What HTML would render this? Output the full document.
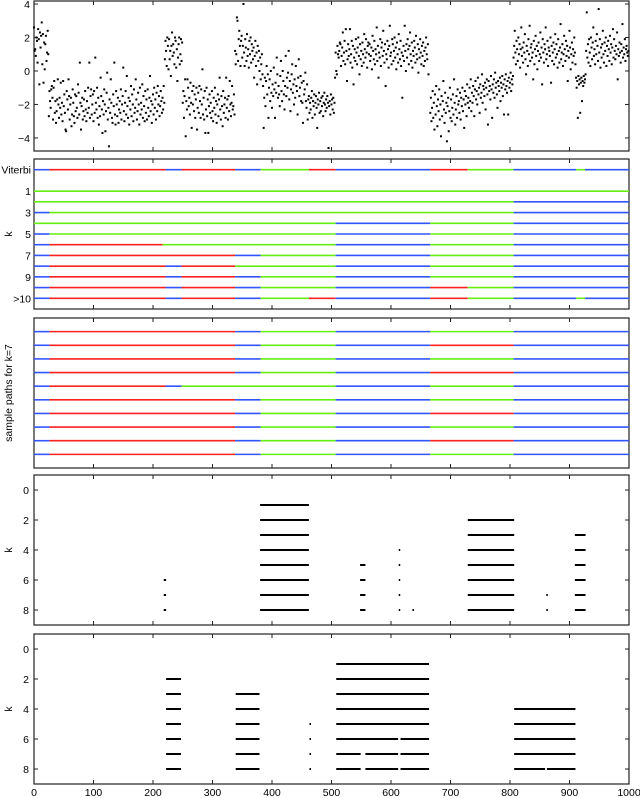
<!DOCTYPE html>
<html><head><meta charset="utf-8"><style>
body{margin:0;background:#fff}
svg{display:block;font-family:"Liberation Sans",sans-serif;font-size:10.5px}
</style></head><body>
<svg id="fig" width="640" height="798" xmlns="http://www.w3.org/2000/svg"></svg>
<script>
const xTicks=[0,100,200,300,400,500,600,700,800,900,1000];
const obsSegStarts=[0,25,220,250,338,385,460,507,666,730,806,911,928];
const obsSegValues=[
[2.6,1.2,1.3,0.9,2.0,1.8,0.5,2.5,1.9,-0.8,2.3,1.4,2.1,2.9,0.4,2.2,-0.7,1.7,0.1,1.6,2.1,0.6,1.1,2.4,1.0],
[-2.7,-1.2,-1.8,-2.2,-1.1,-0.9,-1.6,-2.9,-1.0,-0.6,-2.5,-1.8,-3.1,-2.4,-1.7,-0.5,-2.0,-2.8,-1.6,-2.2,-0.7,-2.6,-1.9,-3.0,-0.6,
-2.1,-1.4,-2.5,-3.5,-3.6,-1.2,-1.7,-2.3,-0.5,-1.5,-2.9,-2.0,-1.6,-3.3,-2.6,-1.1,-1.9,-2.7,-3.1,-1.4,-2.4,-1.5,-2.2,-2.8,-0.8,
-1.3,-2.6,0.5,-1.9,-3.5,-2.1,-1.6,-2.9,-2.4,-1.7,-2.7,-1.2,-2.3,-3.0,-1.8,-2.5,-1.0,-2.2,0.5,-2.8,-1.5,-1.1,-2.6,-2.0,-1.4,
-3.0,-1.2,-2.5,0.8,-1.9,-2.3,-1.0,-2.8,-1.6,-3.2,-2.1,-2.7,-0.4,-1.5,-2.3,-3.7,-1.8,-2.6,-1.1,-2.0,-3.6,-2.4,-1.3,-0.1,-2.9,
-2.2,-4.5,-1.7,-2.5,-0.5,-1.9,-2.8,-3.1,-1.4,-2.1,0.5,-2.6,-3.2,-1.2,-2.0,-2.7,-1.6,-3.1,-2.3,-1.8,-2.5,-1.1,-2.9,-2.0,-1.5,
0.2,-2.4,-3.0,-1.9,-1.2,-2.6,-0.3,-2.1,-2.8,-1.6,-3.2,-1.8,-2.3,-0.9,-2.7,-1.4,-2.0,-3.0,-1.1,-2.5,-2.2,-0.5,-1.7,-2.9,-2.4,
-1.3,-2.0,-3.2,-1.0,-2.6,-1.9,-2.3,-0.8,-2.8,-1.5,-2.1,-3.0,-1.2,-2.5,-1.7,-2.9,-1.1,-2.2,-2.7,-1.6,-0.3,-2.4,-1.8,-3.1,-2.0,
-1.4,-2.6,-1.0,-2.2,-1.7,-2.9,-1.3,-2.4,-0.9,-2.0,-1.5,-2.7,-2.1,-1.2,-1.8,-2.5,-1.6,-2.3,-0.9,-1.9],
[0.7,1.8,1.2,0.3,2.0,1.5,0.1,1.9,0.7,1.2,-0.3,1.5,2.3,0.9,1.6,1.1,0.4,2.0,1.8,0.2,1.3,-0.6,0.8,1.6,2.0,0.4,1.0,1.9,0.6,1.7],
[-1.9,-1.2,-2.8,-1.5,-0.5,-3.9,-1.8,-2.3,-0.5,-1.0,-2.1,-1.6,-2.6,-0.7,-1.9,-3.4,-1.2,-2.0,-0.9,-2.4,-1.4,-2.8,-1.7,-1.0,-3.5,
-2.2,-1.3,-2.5,-0.9,-1.8,-2.8,-1.1,-2.0,0.1,-2.6,-1.6,-2.9,-1.2,-3.7,-2.3,-1.0,-2.7,-1.7,-3.7,-2.1,-1.4,-2.5,-1.9,-2.8,-1.2,
-2.4,-3.0,-1.6,-2.2,-1.0,-2.6,-1.8,-3.1,-2.0,-1.4,-2.7,-1.7,-0.4,-2.3,-2.9,-1.5,-2.1,-3.3,-1.2,-2.5,-2.0,-1.6,-2.8,-0.4,-2.2,
-1.7,-2.9,-1.5,-2.4,-0.6,-2.0,-2.7,-1.9,-0.9,-2.3,-2.1,-1.4,-2.6],
[1.2,0.4,1.0,3.2,3.0,0.6,1.9,2.4,1.5,0.3,1.8,2.1,0.8,1.5,4.0,1.1,0.3,1.9,1.4,0.6,2.2,0.9,1.3,0.2,1.8,1.0,2.0,0.5,1.6,1.2,0.7,1.4,-0.4,0.9,1.8,0.3,1.1,-0.8,1.5,0.6,1.2,0.0,0.8,-0.5,0.4,1.0,-0.2],
[-0.9,-3.4,-1.6,-0.4,-2.1,-0.6,0.3,-1.4,-0.2,-2.8,-1.0,-0.5,-1.8,0.0,-1.3,-2.2,-0.8,-1.5,0.2,-1.1,-2.8,-0.7,-1.3,0.8,-0.2,-1.6,-0.9,-1.4,-2.1,-0.3,0.6,-1.2,-1.8,0.0,-0.6,-1.4,-2.3,-0.9,0.9,-1.5,-0.4,-1.0,-0.1,1.2,-1.7,-0.6,-2.4,-1.1,-0.2,0.4,-1.3,-0.8,-2.0,-0.5,-1.6,0.3,-0.9,-1.2,-2.6,-0.4,0.7,-1.5,-1.0,-0.3,-1.8,-0.7,-1.9,-3.1,-0.6,-1.4,-1.1,-0.1,-1.8,-2.2,-0.8],
[-2.9,-1.7,-1.5,-2.5,-1.9,-2.3,-1.6,-1.2,-2.8,-1.8,-2.1,-1.4,-2.6,-1.9,-1.5,-2.2,-3.4,-1.7,-2.0,-1.3,-2.5,-1.8,-2.4,-1.6,-2.1,-1.5,-2.7,-1.9,-1.3,-2.0,-2.4,-1.7,-2.2,-1.5,-1.9,-4.6,-2.1,-1.8,-2.6,-1.4,-2.0,-1.7,-2.3,-1.6,-2.5,-1.9,-0.4],
[1.1,0.0,-0.2,1.5,1.0,0.8,1.2,1.7,1.6,0.3,0.9,1.4,2.3,0.6,1.1,1.8,0.4,2.5,1.2,-0.6,0.7,1.6,0.9,1.3,2.5,0.5,1.0,1.8,0.2,1.5,-0.8,0.8,1.3,0.6,1.9,1.1,0.4,1.4,2.0,0.9,-0.2,1.6,0.7,1.2,0.3,1.7,1.0,0.5,2.2,1.3,0.8,1.9,1.1,0.2,1.5,1.7,1.0,1.6,0.6,0.9,1.4,0.1,2.1,1.2,0.7,1.8,0.4,1.3,1.0,2.6,0.6,1.5,-0.4,1.1,0.8,1.9,0.3,1.4,1.7,0.9,2.4,1.2,0.5,1.6,-0.9,1.0,0.7,1.8,1.3,0.2,1.5,2.7,0.9,1.1,0.4,1.9,1.6,0.6,1.2,2.0,0.8,1.4,0.1,1.7,1.0,0.5,2.2,1.3,0.7,1.8,0.3,1.1,-1.6,0.9,1.5,0.6,2.7,1.2,0.0,1.6,0.8,1.9,1.3,0.4,1.5,2.3,1.0,0.6,1.7,0.2,1.2,0.9,1.8,1.4,0.5,2.1,1.0,0.7,1.6,-0.1,1.3,0.8,1.9,1.1,0.4,1.5,0.9,1.7,0.3,1.2,0.6,1.4,2.0,1.0,0.7,1.6,-0.2],
[-2.5,-1.6,-3.0,-2.2,-1.2,-2.8,-1.9,-3.5,-1.4,-2.6,-0.9,-2.1,-3.3,-1.7,-2.4,-1.1,-2.9,-2.0,-3.9,-1.5,-2.7,-1.8,-0.6,-2.3,-3.1,-1.3,-2.5,-1.9,-4.2,-2.1,-1.6,-3.6,-2.4,-1.0,-2.8,-1.7,-3.0,-2.2,-1.4,-2.6,-0.5,-1.9,-3.2,-2.3,-1.5,-2.8,-1.1,-2.0,-1.8,-2.5,-1.3,-2.9,-1.6,-2.1,-1.0,-2.4,-1.7,-3.4,-1.2,-2.0,-1.5,-2.7,-0.8,-1.9],
[-1.6,-2.2,-1.0,-1.8,-0.5,-2.4,-1.3,-1.9,-0.9,-1.5,-2.7,-1.1,-0.6,-1.7,-1.2,-2.0,-0.4,-1.4,-1.0,-2.5,-0.8,-1.6,-1.3,-0.2,-1.9,-0.9,-1.1,-1.5,-0.7,-2.3,-1.0,-0.5,-1.4,-3.2,-0.6,-1.2,-0.9,-1.7,-0.3,-1.1,-2.8,-0.8,-1.3,-0.5,-1.6,-0.1,-1.0,-0.7,-1.4,-2.2,-0.6,-0.9,-1.2,-0.4,-1.8,-0.7,-1.0,-0.3,-1.5,-0.8,-2.6,-0.5,-1.1,-0.2,-0.9,-1.3,-0.6,-2.6,-0.4,-1.0,-0.7,-0.1,-1.2,-0.5,-0.8,-0.3],
[0.8,1.5,2.4,1.1,0.4,1.8,1.3,0.6,2.0,1.0,1.6,0.2,1.3,2.6,0.9,1.4,0.5,1.7,1.1,2.2,0.7,-0.2,1.5,1.2,0.3,1.9,1.0,2.7,0.6,1.4,1.6,0.8,1.1,-0.5,1.8,0.4,1.3,2.1,0.9,1.5,0.1,1.2,1.7,0.6,1.0,2.3,0.8,1.4,-0.8,1.9,1.1,0.5,1.6,1.3,2.6,0.7,1.0,1.8,0.3,1.4,1.2,0.9,2.0,-0.7,1.5,0.6,1.1,1.7,0.4,1.3,2.2,0.8,1.6,1.0,0.2,1.9,1.2,0.5,1.4,2.8,0.7,1.1,1.6,0.3,1.0,2.1,1.3,0.6,1.8,0.9,1.5,-0.6,1.2,0.8,2.4,1.4,0.1,1.0,1.7,0.5,1.3,0.9,2.0,1.1,0.4],
[-0.4,-1.0,-0.6,-2.8,-0.3,-0.8,-0.5,-2.5,-0.7,-0.4,-1.8,-0.6,-0.9,-0.3,-0.7,-0.5,-0.2],
[1.2,3.5,0.8,1.6,0.5,1.9,1.1,0.3,2.0,1.4,0.7,1.7,2.6,0.9,1.3,0.4,1.8,1.0,2.2,1.5,0.6,3.7,1.1,1.9,0.2,1.4,0.8,1.6,2.4,1.0,0.5,1.7,1.2,2.0,0.3,1.5,0.9,1.8,1.3,0.6,2.1,1.1,1.6,0.4,1.4,2.5,0.8,1.9,1.2,0.7,1.5,1.0,2.3,-0.5,1.3,0.9,1.7,1.1,0.5,1.6,1.2,2.8,0.8,1.4,1.0,1.9,0.6,1.3,1.5,1.1,0.9,1.2]
];
const viterbiPath=[[0,26,'B'],[26,221,'R'],[221,248,'B'],[248,338,'R'],[338,381,'B'],[381,462,'G'],[462,507,'R'],[507,666,'B'],[666,729,'R'],[729,806,'G'],[806,911,'B'],[911,926,'G'],[926,1000,'B']];
const kPaths=[
[[0,1000,'G']],
[[0,806,'G'],[806,1000,'B']],
[[0,26,'B'],[26,806,'G'],[806,1000,'B']],
[[0,507,'G'],[507,666,'B'],[666,806,'G'],[806,1000,'B']],
[[0,26,'B'],[26,507,'G'],[507,666,'B'],[666,806,'G'],[806,1000,'B']],
[[0,26,'B'],[26,216,'R'],[216,507,'G'],[507,666,'B'],[666,806,'G'],[806,1000,'B']],
[[0,26,'B'],[26,338,'R'],[338,381,'B'],[381,507,'G'],[507,666,'B'],[666,806,'G'],[806,1000,'B']],
[[0,26,'B'],[26,221,'R'],[221,248,'B'],[248,338,'R'],[338,507,'G'],[507,666,'B'],[666,806,'G'],[806,1000,'B']],
[[0,26,'B'],[26,221,'R'],[221,248,'B'],[248,338,'R'],[338,381,'B'],[381,507,'G'],[507,666,'B'],[666,806,'G'],[806,1000,'B']],
[[0,26,'B'],[26,221,'R'],[221,248,'B'],[248,338,'R'],[338,381,'B'],[381,507,'G'],[507,666,'B'],[666,729,'R'],[729,806,'G'],[806,1000,'B']],
viterbiPath
];
const sampleMid=['G','R','G','R','G','G','R','G','R','G'];
const sampleLeftAlt=[false,false,false,false,true,false,false,false,false,false];
const cpA=[[],[[380,462]],[[380,462],[729,807]],[[380,462],[729,807],[909,927]],[[380,462],[613,614],[729,807],[909,927]],[[380,462],[548,557],[613,614],[729,807],[909,927]],[[218,222],[380,462],[548,557],[613,614],[729,807],[909,927]],[[218,222],[380,462],[548,557],[613,614],[729,807],[861,862],[909,927]],[[218,222],[380,462],[548,557],[613,614],[636,637],[729,807],[861,862],[909,927]]];
const cpB=[[],[[508,664]],[[222,247],[508,664]],[[222,247],[339,379],[508,664]],[[222,247],[339,379],[508,664],[807,910]],[[222,247],[339,379],[463,464],[508,664],[807,910]],[[222,247],[339,379],[463,464],[508,612],[616,664],[807,910]],[[222,247],[339,379],[463,464],[508,549],[557,612],[616,664],[807,910]],[[222,247],[339,379],[463,464],[508,549],[557,612],[616,664],[807,859],[862,910]]];

const NS='http://www.w3.org/2000/svg';
const svg=document.getElementById('fig');
const COL={B:'#3355ff',R:'#ff2020',G:'#66ee11'};
const L=34,R=629;
const X=v=>L+v*(R-L)/1000;
function el(tag,attrs,parent){const e=document.createElementNS(NS,tag);for(const k in attrs)e.setAttribute(k,attrs[k]);(parent||svg).appendChild(e);return e;}
function txt(s,x,y,anchor,parent){const t=el('text',{x:x,y:y,'text-anchor':anchor||'end',fill:'#000'},parent);t.textContent=s;return t;}
function panel(name,top,bot,y0,y1){
  const g=el('g',{});
  
  
  const Y=v=>top+(v-y0)*(bot-top)/(y1-y0);
  return {g,Y,top,bot};
}
function frame(p,yticks){
  const fr=el('rect',{x:L,y:p.top,width:R-L,height:p.bot-p.top,fill:'none',stroke:'#222','stroke-width':1.2},p.g);
  
  
  xTicks.forEach(t=>{
    el('line',{x1:X(t),x2:X(t),y1:p.top,y2:p.top+4,stroke:'#222','stroke-width':1},p.g);
    el('line',{x1:X(t),x2:X(t),y1:p.bot,y2:p.bot-4,stroke:'#222','stroke-width':1},p.g);
  });
  (yticks||[]).forEach(v=>{
    el('line',{x1:L,x2:L+4,y1:p.Y(v),y2:p.Y(v),stroke:'#222'},p.g);
    el('line',{x1:R,x2:R-4,y1:p.Y(v),y2:p.Y(v),stroke:'#222'},p.g);
  });
}
function ylabel(p,s,x,y){const t=el('text',{x:0,y:0,transform:`translate(${x},${y}) rotate(-90)`,'text-anchor':'middle',fill:'#000'},p.g);t.textContent=s;}
function segs(p,y,path,w){path.forEach(s=>{const l=el('line',{x1:X(s[0]),x2:X(s[1]),y1:y,y2:y,stroke:COL[s[2]],'stroke-width':w},p.g);});}

const p1=panel('observations-panel',1,151,4.18,-4.78);
frame(p1,[4,2,0,-2,-4]);
[4,2,0,-2,-4].forEach(v=>txt(v<0?'\u2212'+(-v):String(v),30,p1.Y(v)+4,'end',p1.g));
obsSegStarts.forEach((s,si)=>{obsSegValues[si].forEach((v,i)=>{
  const c=el('rect',{x:X(s+i)-1,y:p1.Y(v)-1,width:2,height:2,fill:'#000'},p1.g);
  
  
});});

const p2=panel('paths-by-k-panel',159,309,-2,12);
frame(p2,[-1,1,3,5,7,9,11]);
[['Viterbi',-1],['1',1],['3',3],['5',5],['7',7],['9',9],['>10',11]].forEach(a=>txt(a[0],31,p2.Y(a[1])+4,'end',p2.g));
ylabel(p2,'k',12,p2.Y(5));
segs(p2,p2.Y(-1),viterbiPath,1.6);
kPaths.forEach((path,i)=>segs(p2,p2.Y(i+1),path,1.6));

const p3=panel('sample-paths-panel',318,468,0,11);
frame(p3,[]);
ylabel(p3,'sample paths for k=7',12,393);
sampleMid.forEach((m,i)=>{
  const left=sampleLeftAlt[i]?[[0,26,'B'],[26,221,'R'],[221,248,'B'],[248,507,'G']]:[[0,26,'B'],[26,338,'R'],[338,381,'B'],[381,507,'G']];
  segs(p3,p3.Y(i+1),left.concat([[507,666,'B'],[666,806,m],[806,1000,'B']]),1.6);
});

function cpPanel(name,top,bot,data){
  const p=panel(name,top,bot,-1,9);
  frame(p,[0,2,4,6,8]);
  [0,2,4,6,8].forEach(v=>txt(String(v),29,p.Y(v)+4,'end',p.g));
  ylabel(p,'k',12,p.Y(4));
  data.forEach((row,k)=>row.forEach(s=>{
    const x1=X(s[0]),x2=Math.max(X(s[1]),x1+1.5);
    const l=el('line',{x1:x1,x2:x2,y1:p.Y(k),y2:p.Y(k),stroke:'#000','stroke-width':2},p.g);
    
    
  }));
  return p;
}
cpPanel('changepoints-panel-a',475,625,cpA);
const p5=cpPanel('changepoints-panel-b',634,784,cpB);
xTicks.forEach(t=>{const tt=txt(String(t),X(t),796,'middle',p5.g);});
</script>
</body></html>
